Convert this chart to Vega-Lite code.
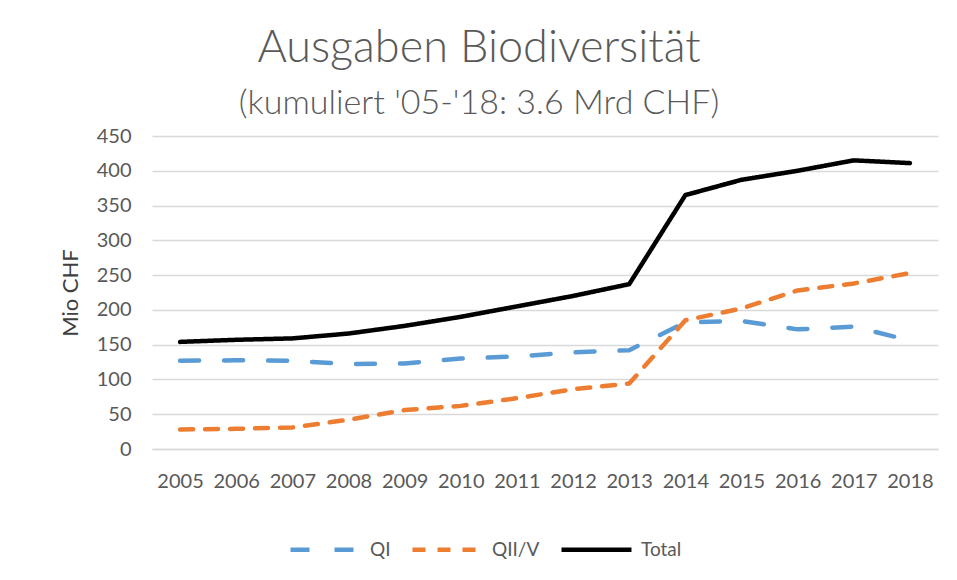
{
  "$schema": "https://vega.github.io/schema/vega-lite/v6.json",
  "autosize": "none",
  "width": 786,
  "height": 313,
  "padding": {"left": 152, "top": 136, "right": 19, "bottom": 131},
  "background": "white",
  "config": {
    "font": "Lato",
    "view": {"stroke": null}
  },
  "title": {
    "text": "Ausgaben Biodiversität",
    "subtitle": "(kumuliert '05-'18: 3.6 Mrd CHF)",
    "anchor": "middle",
    "dx": -66,
    "offset": 5,
    "font": "Lato",
    "fontSize": 45,
    "fontWeight": 300,
    "color": "#595959",
    "subtitleFont": "Lato",
    "subtitleFontSize": 34,
    "subtitleFontWeight": 300,
    "subtitleColor": "#595959",
    "subtitlePadding": 16
  },
  "data": {
    "values": [
      {"year": "2005", "series": "QI", "value": 127},
      {"year": "2006", "series": "QI", "value": 127.5},
      {"year": "2007", "series": "QI", "value": 127},
      {"year": "2008", "series": "QI", "value": 122},
      {"year": "2009", "series": "QI", "value": 123},
      {"year": "2010", "series": "QI", "value": 130},
      {"year": "2011", "series": "QI", "value": 133},
      {"year": "2012", "series": "QI", "value": 139},
      {"year": "2013", "series": "QI", "value": 142},
      {"year": "2014", "series": "QI", "value": 182},
      {"year": "2015", "series": "QI", "value": 184},
      {"year": "2016", "series": "QI", "value": 172},
      {"year": "2017", "series": "QI", "value": 176},
      {"year": "2018", "series": "QI", "value": 156},
      {"year": "2005", "series": "QII/V", "value": 28},
      {"year": "2006", "series": "QII/V", "value": 29},
      {"year": "2007", "series": "QII/V", "value": 31},
      {"year": "2008", "series": "QII/V", "value": 42},
      {"year": "2009", "series": "QII/V", "value": 56},
      {"year": "2010", "series": "QII/V", "value": 62},
      {"year": "2011", "series": "QII/V", "value": 73},
      {"year": "2012", "series": "QII/V", "value": 86},
      {"year": "2013", "series": "QII/V", "value": 94},
      {"year": "2014", "series": "QII/V", "value": 185},
      {"year": "2015", "series": "QII/V", "value": 202},
      {"year": "2016", "series": "QII/V", "value": 228},
      {"year": "2017", "series": "QII/V", "value": 238},
      {"year": "2018", "series": "QII/V", "value": 253},
      {"year": "2005", "series": "Total", "value": 154},
      {"year": "2006", "series": "Total", "value": 157},
      {"year": "2007", "series": "Total", "value": 159},
      {"year": "2008", "series": "Total", "value": 166},
      {"year": "2009", "series": "Total", "value": 177},
      {"year": "2010", "series": "Total", "value": 190},
      {"year": "2011", "series": "Total", "value": 205},
      {"year": "2012", "series": "Total", "value": 220},
      {"year": "2013", "series": "Total", "value": 237},
      {"year": "2014", "series": "Total", "value": 365},
      {"year": "2015", "series": "Total", "value": 387},
      {"year": "2016", "series": "Total", "value": 400},
      {"year": "2017", "series": "Total", "value": 415},
      {"year": "2018", "series": "Total", "value": 411}
    ]
  },
  "mark": {"type": "line", "strokeWidth": 4.5, "strokeCap": "round", "strokeJoin": "round", "interpolate": "linear"},
  "encoding": {
    "x": {
      "field": "year",
      "type": "ordinal",
      "scale": {"type": "point", "padding": 0.5},
      "axis": {
        "title": null,
        "labelAngle": 0,
        "labelFontSize": 20,
        "labelColor": "#595959",
        "labelPadding": 22,
        "ticks": false,
        "domain": true,
        "domainColor": "#d9d9d9",
        "domainWidth": 1.5
      }
    },
    "y": {
      "field": "value",
      "type": "quantitative",
      "scale": {"domain": [0, 450], "nice": false},
      "axis": {
        "title": "Mio CHF",
        "titleFontSize": 22,
        "titleFontWeight": "normal",
        "titleColor": "#404040",
        "titlePadding": 14,
        "values": [0, 50, 100, 150, 200, 250, 300, 350, 400, 450],
        "labelFontSize": 20,
        "labelColor": "#595959",
        "labelPadding": 21,
        "ticks": false,
        "domain": false,
        "grid": true,
        "gridColor": "#d9d9d9",
        "gridWidth": 1.5
      }
    },
    "color": {
      "field": "series",
      "type": "nominal",
      "scale": {"domain": ["QI", "QII/V", "Total"], "range": ["#5B9BD5", "#ED7D31", "#000000"]},
      "legend": {
        "title": null,
        "orient": "none",
        "direction": "horizontal",
        "legendX": 136,
        "legendY": 376,
        "symbolType": "stroke",
        "symbolSize": 4900,
        "symbolStrokeWidth": 4.5,
        "labelFontSize": 19,
        "labelColor": "#595959",
        "labelOffset": 7,
        "columnPadding": 12
      }
    },
    "strokeDash": {
      "field": "series",
      "type": "nominal",
      "scale": {"domain": ["QI", "QII/V", "Total"], "range": [[19, 25], [13, 12], [1, 0]]},
      "legend": {
        "title": null,
        "orient": "none",
        "direction": "horizontal",
        "legendX": 136,
        "legendY": 376,
        "symbolType": "stroke",
        "symbolSize": 4900,
        "symbolStrokeWidth": 4.5,
        "labelFontSize": 19,
        "labelColor": "#595959",
        "labelOffset": 7,
        "columnPadding": 12
      }
    }
  }
}
